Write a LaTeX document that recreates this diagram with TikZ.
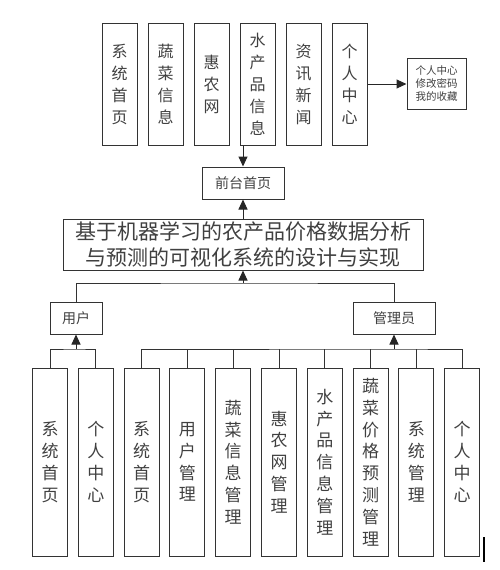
\documentclass[tikz,border=0pt]{standalone}
\usepackage{fontspec}
\usepackage{tikz}
\usetikzlibrary{arrows.meta}
\newfontfamily\cjk{Noto Sans CJK SC}

\begin{document}
\begin{tikzpicture}
[x=1pt,y=-1pt]
\tikzset{col/.style={draw=black!80,line width=1pt,minimum width=35pt,inner sep=0pt,align=center,text=black!75},
top/.style={col,minimum height=122pt,font=\cjk\fontsize{16}{22}\selectfont},
bot/.style={col,minimum height=188pt,font=\cjk\fontsize{17}{21.8}\selectfont},
box/.style={draw=black!80,line width=1pt,inner sep=0pt,align=center,text=black!75,font=\cjk\fontsize{14}{18}\selectfont},
arr/.style={draw=black!85,line width=1pt,-{Triangle[length=10pt,width=9pt]}},
lin/.style={draw=black!80,line width=1pt}}
\useasboundingbox (0,0) rectangle (499,570);

\node [top] (t1) at (119.5,84) {系\\统\\首\\页};
\node [top] (t2) at (165.5,84) {蔬\\菜\\信\\息};
\node [top] (t3) at (211.5,84) {惠\\农\\网};
\node [top] (t4) at (257.5,84) {水\\产\\品\\信\\息};
\node [top] (t5) at (303.5,84) {资\\讯\\新\\闻};
\node [top] (t6) at (349.5,84) {个\\人\\中\\心};
\node [box,minimum width=59pt,minimum height=51pt,font=\cjk\fontsize{10.5}{13}\selectfont] (pc) at (436.5,84) {个人中心\\修改密码\\我的收藏};

\node [box,minimum width=82pt,minimum height=32pt] (qt) at (243,183) {前台首页};
\node [box,minimum width=360pt,minimum height=51pt,font=\cjk\fontsize{21}{26}\selectfont] (title) at (243,244.5) {基于机器学习的农产品价格数据分析\\与预测的可视化系统的设计与实现};
\node [box,minimum width=52pt,minimum height=32pt] (yh) at (76,318) {用户};
\node [box,minimum width=82pt,minimum height=32pt] (gl) at (394,318) {管理员};

\node [bot] (b1) at (50,462) {系\\统\\首\\页};
\node [bot] (b2) at (95.8,462) {个\\人\\中\\心};
\node [bot] (b3) at (141.6,462) {系\\统\\首\\页};
\node [bot] (b4) at (187.4,462) {用\\户\\管\\理};
\node [bot] (b5) at (233.2,462) {蔬\\菜\\信\\息\\管\\理};
\node [bot] (b6) at (279,462) {惠\\农\\网\\管\\理};
\node [bot] (b7) at (324.8,462) {水\\产\\品\\信\\息\\管\\理};
\node [bot] (b8) at (370.6,462) {蔬\\菜\\价\\格\\预\\测\\管\\理};
\node [bot] (b9) at (416.4,462) {系\\统\\管\\理};
\node [bot] (b10) at (462.2,462) {个\\人\\中\\心};

\coordinate (j1) at (243,283);
\coordinate (j2) at (76,349);
\coordinate (j3) at (394,349);

\draw [arr] (t6.east) -- (pc.west);
\draw [arr] (qt.north |- t4.south) -- (qt.north);
\draw [arr] (title.north) -- (qt.south);
\draw [lin] (yh.north) |- (j1) -| (gl.north);
\draw [arr] (j1) -- (title.south);
\draw [lin] (b1.north) |- (j2) -| (b2.north);
\draw [arr] (j2) -- (yh.south);
\draw [lin] (b3.north) |- (j3) -| (b10.north);
\foreach \i in {4,...,9}
	\draw [lin] (b\i.north) -- (b\i.north |- j3);
\draw [arr] (j3) -- (gl.south);

\draw [line width=1.4pt] (484,537) -- (484,562);

\end{tikzpicture}
\end{document}
